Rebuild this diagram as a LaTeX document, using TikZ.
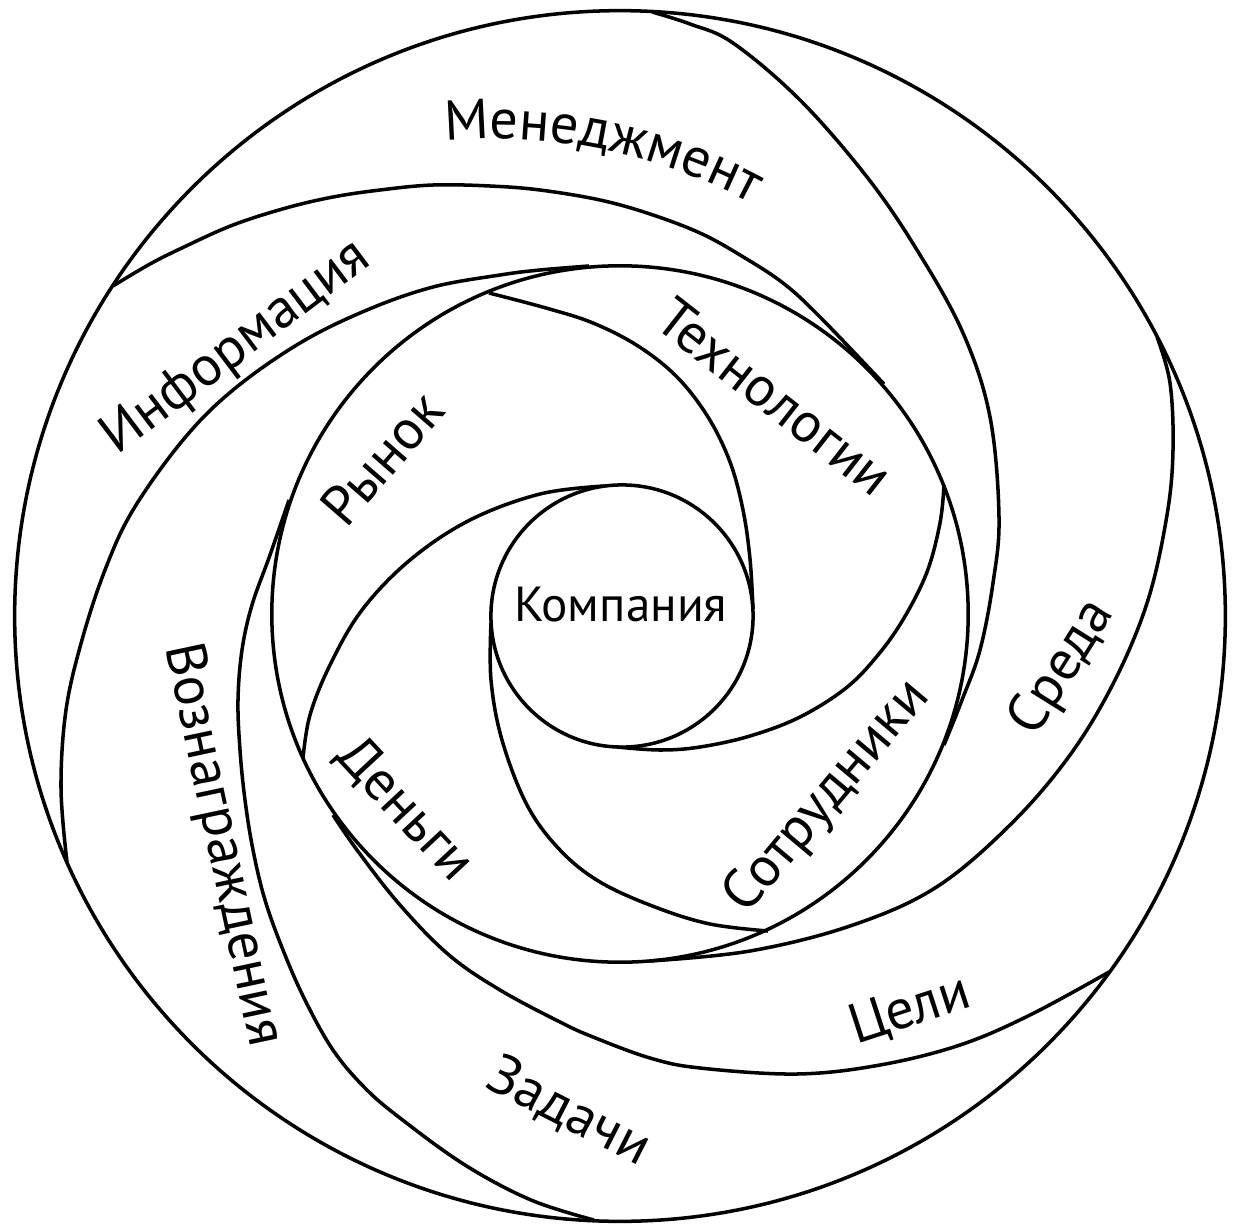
\documentclass[tikz,border=0pt]{standalone}
\usepackage{fontspec}
\setmainfont{PT Sans}
\usetikzlibrary{decorations.text}
\newcommand\wordfont{\fontsize{16}{16}\selectfont}
\begin{document}
\begin{tikzpicture}[x=0.01cm, y=-0.01cm, line width=1pt, line join=round,
    word/.style={font=\wordfont, inner sep=0pt},
    arm/.style={smooth, tension=0.6}]
    \useasboundingbox (0,0) rectangle (1233,1224);
    \coordinate (c1) at (622,616); \coordinate (cmid) at (620,614); \coordinate (cout) at (620,616);

    \draw (c1) circle[radius=1.31cm];
    \draw (cmid) circle[radius=3.48cm];
    \draw (cout) circle[radius=6.05cm];

    % inner arms
    \draw plot[arm] coordinates {(604,486) (540,494) (470,520) (410,560) (362,610) (330,665) (310,715) (303,758)};
    \draw plot[arm] coordinates {(753,609) (750,559) (743,510) (730,462) (708,417) (677,377) (638,346) (593,323) (546,308) (489,293)};
    \draw plot[arm] coordinates {(491,623) (491,680) (502,740) (527,805) (560,850) (600,882) (655,907) (710,924) (768,931)};
    \draw plot[arm] coordinates {(617,747) (660,750) (700,747) (750,736) (800,717) (846,688) (878,655) (904,618) (927,572) (940,523) (944,485)};

    % outer arms
    \draw plot[arm] coordinates {(589,266) (540,270) (500,275) (433,287) (367,310) (300,343) (233,390) (183,440) (133,510) (105,570) (82,640) (66,710) (61,788) (67,862)};
    \draw plot[arm] coordinates {(884,384) (820,317) (783,283) (740,255) (700,233) (650,214) (600,200) (540,190) (490,186) (433,185) (380,190) (333,197) (286,208) (233,225) (184,247) (150,264) (113,286)};
    \draw plot[arm] coordinates {(944,745) (962,700) (980,650) (993,583) (999,517) (990,417) (963,333) (917,250) (867,177) (800,100) (733,43) (690,24) (652,12)};
    \draw plot[arm] coordinates {(650,961) (750,951) (850,926) (935,888) (1010,825) (1070,755) (1115,680) (1148,600) (1167,515) (1173,450) (1170,383) (1157,337)};
    \draw plot[arm] coordinates {(333,815) (357,850) (400,905) (449,955) (500,990) (560,1022) (593,1037) (650,1058) (700,1068) (797,1074) (880,1065) (960,1045) (1030,1015) (1109,972)};
    \draw plot[arm] coordinates {(289,500) (270,555) (252,605) (242,650) (238,700) (240,750) (245,800) (253,850) (265,900) (283,950) (305,1000) (333,1050) (365,1088) (400,1118) (465,1165) (531,1200) (594,1220)};

    \node[word, font=\fontsize{14}{14}\selectfont] (company) at (621,605) {Компания};
    \foreach \nm/\x/\y/\ang/\txt in {market/382/458/49/Рынок, tech/775/397/-38/Технологии,
        staff/828/797/50/Сотрудники, money/405/810/-47/Деньги, info/237/348/37/Информация,
        reward/222/845/-78/Вознаграждения, tasks/569/1112/-27/Задачи, goals/910/1010/18/Цели,
        env/1063/668/58/Среда}
        \node[word, rotate=\ang] (\nm) at (\x,\y) {\txt};
    \begin{scope}[x=1cm, y=1cm]
        \path[decorate, decoration={text along path, text align=center, text={|\wordfont|Менеджмент}}]
            (4.20,-1.44) arc[start angle=98, end angle=59, radius=5.4cm];
    \end{scope}
\end{tikzpicture}
\end{document}
